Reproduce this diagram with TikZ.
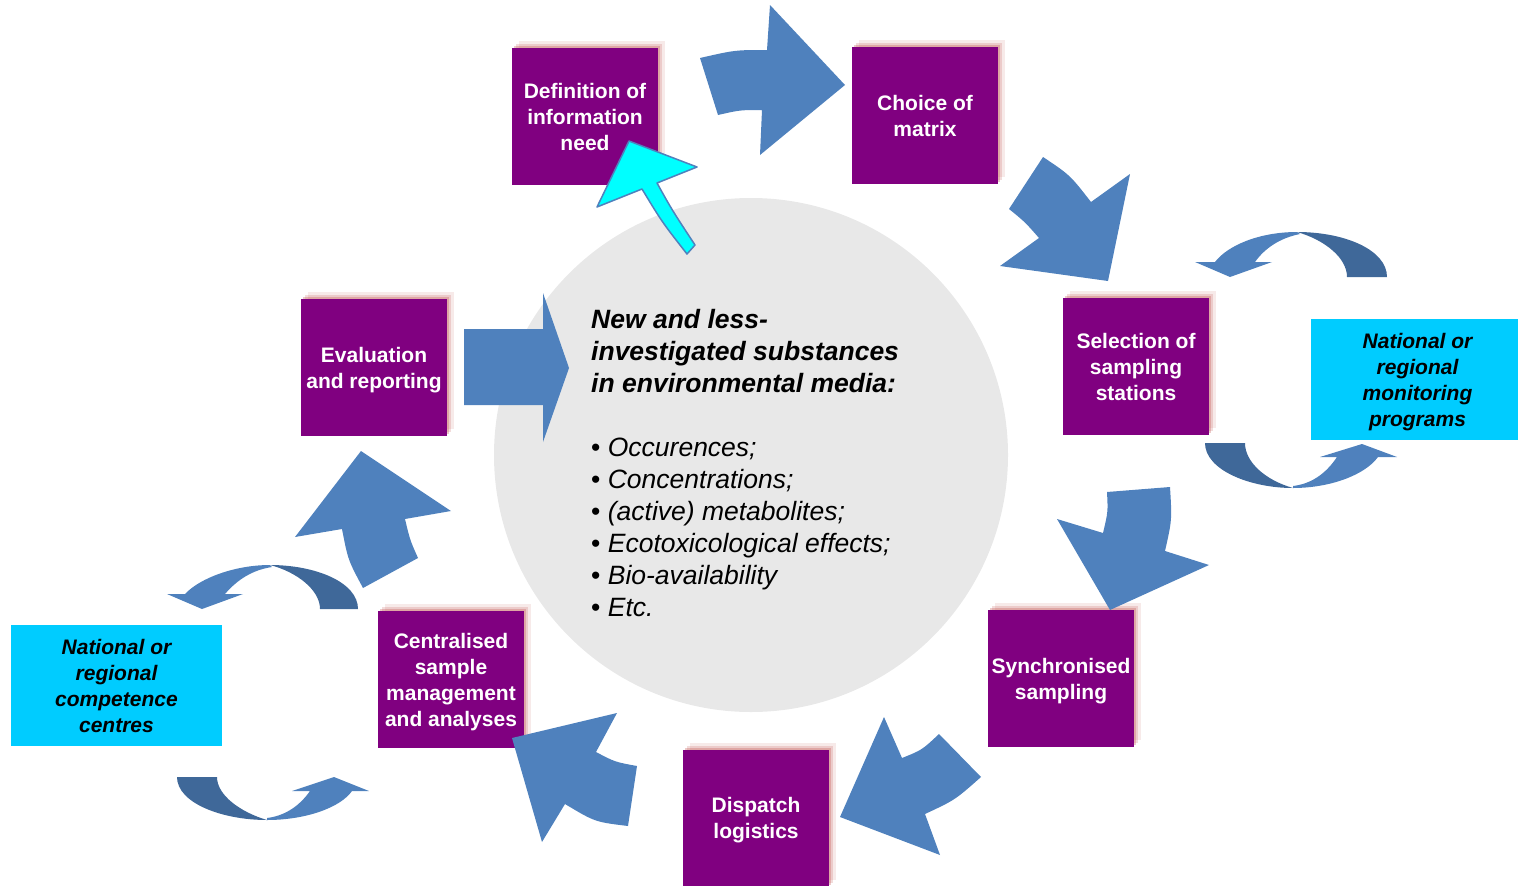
\documentclass[tikz,border=0pt]{standalone}
\usepackage{fontspec}
\setmainfont{Liberation Sans}
\usetikzlibrary{shadows}
\definecolor{boxviolet}{HTML}{800080}
\definecolor{boxcyan}{HTML}{00CCFF}
\definecolor{backcyan}{HTML}{00FFFF}
\definecolor{arrowblue}{HTML}{4F81BD}
\definecolor{arrowdark}{HTML}{3F6899}
\definecolor{mediagray}{HTML}{E8E8E8}
\definecolor{glowred}{HTML}{C0504D}

\begin{document}
\begin{tikzpicture}[x=1pt,y=-1pt,
  pnode/.style={fill=boxviolet,text=white,minimum width=146pt,minimum height=137pt,
    inner sep=0pt,align=center,text depth=0pt,font=\fontsize{21}{26}\selectfont\bfseries,
    drop shadow={shadow xshift=2pt,shadow yshift=2pt,fill=glowred,opacity=.3},
    drop shadow={shadow xshift=4pt,shadow yshift=4pt,fill=glowred,opacity=.2},
    drop shadow={shadow xshift=7pt,shadow yshift=7pt,fill=glowred,opacity=.12}},
  cnode/.style={fill=boxcyan,text=black,minimum height=121pt,inner sep=0pt,
    align=center,text depth=0pt,font=\fontsize{21}{26}\selectfont\bfseries\itshape},
  barrow/.style={fill=arrowblue},
  darrow/.style={fill=arrowdark}
]
\useasboundingbox (0,0) rectangle (1518,886);

% media circle and its text
\node[circle,fill=mediagray,minimum size=514pt,inner sep=0pt] (media) at (751,455) {};
\node[anchor=north west,align=left,inner sep=0pt,font=\fontsize{26.5}{32}\selectfont] (mtext) at (591,309)
  {{\bfseries\itshape New and less-}\\
   {\bfseries\itshape investigated substances}\\
   {\bfseries\itshape in environmental media:}\\[32pt]
   • \textit{Occurences;}\\
   • \textit{Concentrations;}\\
   • \textit{(active) metabolites;}\\
   • \textit{Ecotoxicological effects;}\\
   • \textit{Bio-availability}\\
   • \textit{Etc.}};

% steps
\node[pnode] (def) at (585,116.5) {Definition of\\information\\need};
\node[pnode] (matrix) at (925,115.5) {Choice of\\matrix};
\node[pnode] (stations) at (1136,366.5) {Selection of\\sampling\\stations};
\node[pnode] (sync) at (1061,678.5) {Synchronised\\sampling};
\node[pnode] (dispatch) at (756,818) {Dispatch\\logistics};
\node[pnode] (central) at (451,679.5) {Centralised\\sample\\management\\and analyses};
\node[pnode] (eval) at (374,367.5) {Evaluation\\and reporting};

\node[cnode,minimum width=207pt] (monitor) at (1414.5,379.5) {\hspace*{6pt}National or\\\hspace*{6pt}regional\\\hspace*{6pt}monitoring\\\hspace*{6pt}programs};
\node[cnode,minimum width=211pt] (centres) at (116.5,685.5) {National or\\regional\\competence\\centres};

% big arrows round the cycle
\fill[barrow] (700,58) .. controls (735,50) .. (767,50) -- (770,5) -- (845,85) -- (760,155)
  -- (762,110) .. controls (740,110) .. (718,115) -- cycle;
\fill[barrow] (1043,157) .. controls (1070,175) .. (1091,202) -- (1130,174) -- (1108,281)
  -- (1000,266) -- (1039,238) .. controls (1025,222) .. (1009,209) -- cycle;
\fill[barrow] (1107,492) -- (1170,487) .. controls (1172,520) .. (1165,551) -- (1209,565)
  -- (1110,610) -- (1057,519) -- (1103,533) .. controls (1108,512) .. (1107,492) -- cycle;
\fill[barrow] (939,734) -- (981,777) .. controls (955,800) .. (925,814) -- (940,855)
  -- (840,817) -- (884,717) -- (902,758) .. controls (922,750) .. (939,734) -- cycle;
\fill[barrow] (637,766) -- (628,826) .. controls (595,822) .. (565,804) -- (542,842)
  -- (512,738) -- (617,713) -- (596,752) .. controls (615,762) .. (637,766) -- cycle;
\fill[barrow] (363,588) -- (418,558) .. controls (410,540) .. (405,519) -- (451,511)
  -- (361,451) -- (295,537) -- (342,529) .. controls (348,560) .. (363,588) -- cycle;
\fill[barrow] (464,329) -- (543,329) -- (543,293) -- (569,368) -- (543,442) -- (543,405)
  -- (464,405) -- cycle;

% back to the information need
\filldraw[fill=backcyan,draw=arrowblue,line width=1.5pt,line join=round] (629,141) -- (697,167)
  -- (657,183) .. controls (672,210) .. (695,245) -- (687,254) .. controls (662,222) .. (642,189)
  -- (597,207) -- cycle;

% turning arrows beside the cyan boxes
\fill[darrow] (1387,277) .. controls (1387,250) and (1345,232) .. (1297,232)
  .. controls (1325,240) and (1347,258) .. (1347,277) -- cycle;
\fill[barrow] (1297,232) .. controls (1260,232) and (1228,245) .. (1215,262) -- (1195,262)
  -- (1230,277) -- (1272,262) -- (1255,262) .. controls (1265,248) and (1280,238) .. (1300,234) -- cycle;
\fill[darrow] (1205,443) .. controls (1205,470) and (1250,488) .. (1293,488)
  .. controls (1265,480) and (1245,462) .. (1245,443) -- cycle;
\fill[barrow] (1293,488) .. controls (1330,488) and (1365,475) .. (1378,457) -- (1397,457)
  -- (1362,444) -- (1320,457) -- (1337,457) .. controls (1325,475) and (1310,484) .. (1293,486) -- cycle;
\fill[darrow] (358,609) .. controls (358,582) and (315,565) .. (270,565)
  .. controls (297,572) and (320,590) .. (320,609) -- cycle;
\fill[barrow] (270,565) .. controls (235,565) and (200,578) .. (185,594) -- (167,594)
  -- (202,609) -- (243,594) -- (225,594) .. controls (237,580) and (252,570) .. (272,567) -- cycle;
\fill[darrow] (177,777) .. controls (177,803) and (222,820) .. (267,820)
  .. controls (240,812) and (217,795) .. (217,777) -- cycle;
\fill[barrow] (267,820) .. controls (305,820) and (340,808) .. (352,791) -- (369,791)
  -- (334,777) -- (292,791) -- (310,791) .. controls (298,808) and (283,816) .. (267,818) -- cycle;
\end{tikzpicture}
\end{document}
